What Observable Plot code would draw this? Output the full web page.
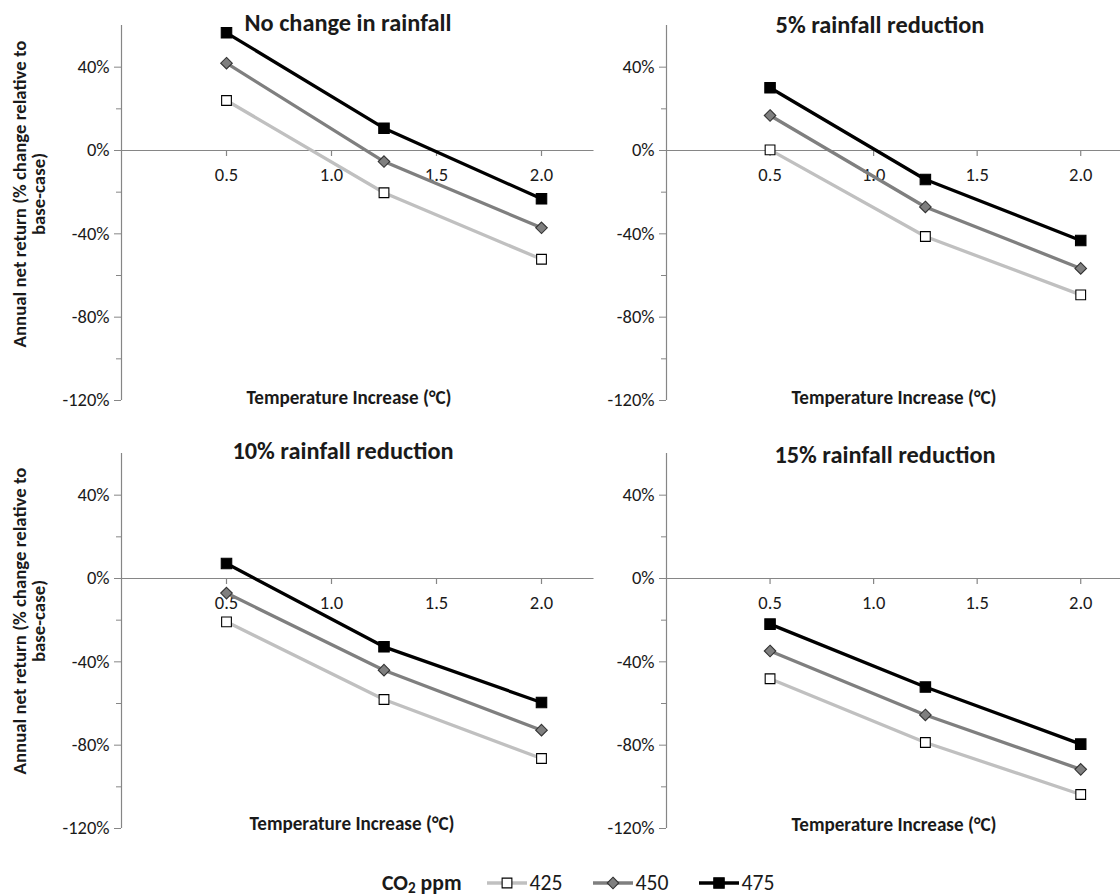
<!DOCTYPE html>
<html><head><meta charset="utf-8">
<script src="https://cdn.jsdelivr.net/npm/d3@7"></script>
<script src="https://cdn.jsdelivr.net/npm/@observablehq/plot@0.6"></script>
<style>
html,body{margin:0;padding:0;background:#fff;overflow:hidden}
#root{position:relative;width:1120px;height:896px;overflow:hidden;font-family:Carlito,Lato,sans-serif;color:#1a1a1a}
.panel{position:absolute}
.title,.xtitle{position:absolute;font-weight:700;line-height:1;transform:translate(-50%,-50%);white-space:nowrap}
.ytitle{position:absolute;font-weight:700;text-align:center;white-space:nowrap;transform:translate(-50%,-50%) rotate(-90deg)}
#legend{position:absolute;display:flex;align-items:center;white-space:nowrap;line-height:16px}
#legend .lab{font-weight:700;margin-right:25px}
#legend .item{display:flex;align-items:center;margin-right:30px}
#legend svg{display:block;margin-right:3px}
</style></head><body><div id="root"></div>
<script>
// ---- data ----
const temps = [0.5, 1.25, 2.0];                 // temperature increase (°C)
const co2Levels = ["425", "450", "475"];         // CO2 ppm series
const panelTitles = ["No change in rainfall", "5% rainfall reduction", "10% rainfall reduction", "15% rainfall reduction"];
const xTitle = "Temperature Increase (°C)";
const yTitleLines = ["Annual net return (% change relative to", "base-case)"];
const xTickValues = [0.5, 1.0, 1.5, 2.0];
const yMajorTicks = [-120, -80, -40, 0, 40];
const yMinorTicks = [-100, -60, -20, 20];

// % change relative to base-case, per panel, per CO2 level (values at 0.5, 1.25, 2.0 °C)
const noChange_425 = [24.0, -20.3, -52.2];
const noChange_450 = [41.9, -5.3, -37.1];
const noChange_475 = [56.5, 10.7, -23.2];

const cut5_425 = [0.3, -41.3, -69.3];
const cut5_450 = [16.8, -27.1, -56.6];
const cut5_475 = [30.1, -13.9, -43.2];

const cut10_425 = [-20.8, -58.1, -86.4];
const cut10_450 = [-7.0, -44.0, -72.8];
const cut10_475 = [7.2, -32.8, -59.5];

const cut15_425 = [-48.1, -78.7, -103.7];
const cut15_450 = [-34.8, -65.5, -91.6];
const cut15_475 = [-21.9, -52.1, -79.5];

const panelSeries = [
  [noChange_425, noChange_450, noChange_475],
  [cut5_425, cut5_450, cut5_475],
  [cut10_425, cut10_450, cut10_475],
  [cut15_425, cut15_450, cut15_475]
];

// ---- styles ----
const axisGray = "#868686";
const textColor = "#1a1a1a";
const lineColors = ["#c0c0c0", "#7f7f7f", "#000000"];
const markerFill = ["#ffffff", "#7f7f7f", "#000000"];
const markerStroke = ["#000000", "#333333", "#000000"];
const markerSymbol = ["square", "diamond2", "square"];
const markerR = [5.5, 5.2, 5.9];
const fontFamily = "Carlito, Lato, sans-serif";

// fit a font size so that a text gets a target width
const ctx = document.createElement("canvas").getContext("2d");
function fitSize(text, weight, target) {
  ctx.font = `${weight} 20px ${fontFamily}`;
  return 20 * target / ctx.measureText(text).width;
}
const tickSize = fitSize("40%", 400, 32);
const titleSize = fitSize(panelTitles[0], 700, 207);
const xTitleSize = fitSize(xTitle, 700, 205);
const yTitleSize = fitSize(yTitleLines[0], 700, 307);
const legendSize = fitSize("425", 400, 33);

// panel layout (left, top, width, height, margins)
const layouts = [
  {left: 0,   top: 0,   width: 600, height: 420, mL: 121, mR: 6.5, mT: 25, mB: 20},
  {left: 560, top: 0,   width: 572, height: 420, mL: 106, mR: 0,   mT: 25, mB: 20},
  {left: 0,   top: 430, width: 600, height: 418, mL: 121, mR: 6.5, mT: 23, mB: 20},
  {left: 560, top: 430, width: 572, height: 418, mL: 106, mR: 0,   mT: 23, mB: 20}
];
const titlePos = [[348, 23], [880, 25], [343, 451], [885, 455]];
const xTitlePos = [[349, 398], [894, 398], [352, 824], [894, 825]];
const yTitlePos = [[29, 194], [29, 621]];

const pct = d => Math.round(d * 100) + "%";
const root = document.getElementById("root");

panelSeries.forEach((series, p) => {
  const L = layouts[p];
  const rows = [];
  series.forEach((vals, k) => vals.forEach((v, i) => rows.push({co2: co2Levels[k], k, t: temps[i], v: v / 100})));
  const marks = [
    Plot.ruleY([0], {stroke: axisGray, strokeWidth: 1.2}),
    Plot.ruleX([0], {stroke: axisGray, strokeWidth: 1.2}),
    Plot.axisY(yMajorTicks.map(d => d / 100), {tickFormat: pct, tickSize: 7, tickPadding: 5, stroke: axisGray, fill: textColor, fontSize: tickSize, label: null}),
    Plot.axisY(yMinorTicks.map(d => d / 100), {tickFormat: () => "", tickSize: 5, stroke: axisGray, label: null}),
    Plot.ruleX(xTickValues, {x: d => d, y1: 0, y2: 0, insetBottom: -6, stroke: axisGray, strokeWidth: 1.2}),
    Plot.text(xTickValues, {x: d => d, y: 0, text: d => d.toFixed(1), dy: 25, fontSize: tickSize, fill: textColor})
  ];
  co2Levels.forEach((c, k) => {
    const sub = rows.filter(r => r.k === k);
    marks.push(Plot.line(sub, {x: "t", y: "v", stroke: lineColors[k], strokeWidth: 3.3}));
  });
  co2Levels.forEach((c, k) => {
    const sub = rows.filter(r => r.k === k);
    marks.push(Plot.dot(sub, {x: "t", y: "v", symbol: markerSymbol[k], r: markerR[k], fill: markerFill[k], stroke: markerStroke[k], strokeWidth: 1.1}));
  });
  const svg = Plot.plot({
    width: L.width, height: L.height,
    marginLeft: L.mL, marginRight: L.mR, marginTop: L.mT, marginBottom: L.mB,
    x: {domain: [0, 2.25], axis: null},
    y: {domain: [-1.2, 0.6]},
    style: {background: "transparent", overflow: "visible", fontFamily, fontSize: tickSize + "px", color: textColor},
    marks
  });
  svg.classList.add("panel");
  svg.style.left = L.left + "px";
  svg.style.top = L.top + "px";
  svg.style.maxWidth = "none";
  root.appendChild(svg);

  const t = document.createElement("div");
  t.className = "title";
  t.textContent = panelTitles[p];
  t.style.fontSize = titleSize + "px";
  t.style.left = titlePos[p][0] + "px";
  t.style.top = titlePos[p][1] + "px";
  root.appendChild(t);

  const xt = document.createElement("div");
  xt.className = "xtitle";
  xt.textContent = xTitle;
  xt.style.fontSize = xTitleSize + "px";
  xt.style.left = xTitlePos[p][0] + "px";
  xt.style.top = xTitlePos[p][1] + "px";
  root.appendChild(xt);
});

yTitlePos.forEach(([x, y]) => {
  const d = document.createElement("div");
  d.className = "ytitle";
  d.innerHTML = yTitleLines.join("<br>");
  d.style.fontSize = yTitleSize + "px";
  d.style.lineHeight = "19px";
  d.style.left = x + "px";
  d.style.top = y + "px";
  root.appendChild(d);
});

// legend
const legend = document.createElement("div");
legend.id = "legend";
legend.style.fontSize = legendSize + "px";
legend.style.left = "382px";
legend.style.top = "875px";
legend.innerHTML = '<span class="lab">CO<sub style="font-size:0.7em;line-height:0;vertical-align:-0.2em">2</sub> ppm</span>';
co2Levels.forEach((c, k) => {
  const item = document.createElement("span");
  item.className = "item";
  const sw = d3.create("svg").attr("width", 40).attr("height", 16);
  sw.append("line").attr("x1", 0).attr("x2", 40).attr("y1", 8).attr("y2", 8)
    .attr("stroke", lineColors[k]).attr("stroke-width", 3.3);
  const sym = d3.symbol(markerSymbol[k] === "diamond2" ? d3.symbolDiamond2 : d3.symbolSquare, markerR[k] * markerR[k] * Math.PI);
  sw.append("path").attr("d", sym()).attr("transform", "translate(20,8)")
    .attr("fill", markerFill[k]).attr("stroke", markerStroke[k]).attr("stroke-width", 1.1);
  item.appendChild(sw.node());
  const tx = document.createElement("span");
  tx.textContent = c;
  item.appendChild(tx);
  legend.appendChild(item);
});
root.appendChild(legend);
</script>
</body></html>
